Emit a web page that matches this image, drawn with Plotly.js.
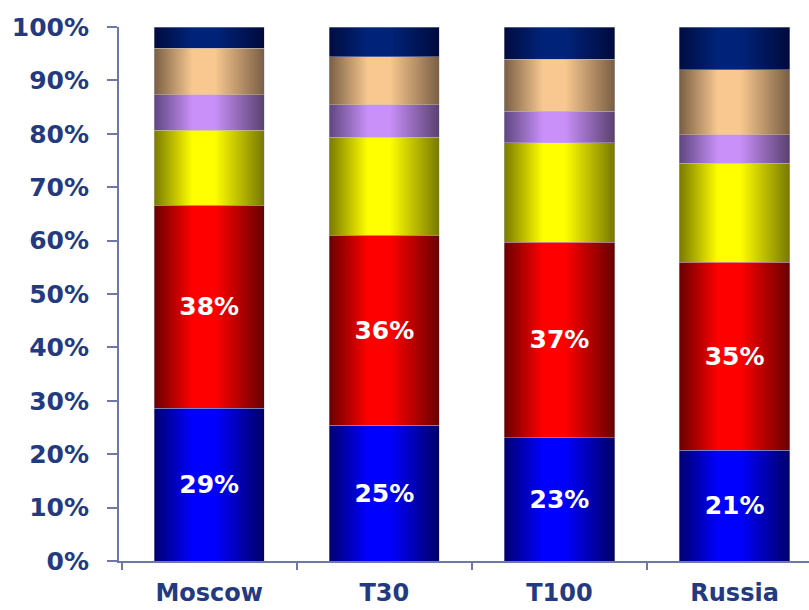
<!DOCTYPE html>
<html>
<head>
<meta charset="utf-8">
<script src="https://cdn.plot.ly/plotly-3.0.1.min.js"></script>
<style>html,body{margin:0;padding:0;background:#fff;overflow:hidden}#chart{width:809px;height:610px}</style>
</head>
<body>
<div id="chart"></div>
<script>
var categories = ["Moscow", "T30", "T100", "Russia"];
var seg1 = [28.6, 25.4, 23.1, 20.7];   // blue (labelled)
var seg2 = [38.0, 35.6, 36.6, 35.2];   // red (labelled)
var seg3 = [14.1, 18.4, 18.6, 18.6];   // yellow
var seg4 = [6.6, 6.0, 5.9, 5.3];       // lavender
var seg5 = [8.7, 9.0, 9.8, 12.2];      // peach
var seg6 = [4.0, 5.6, 6.0, 8.0];       // navy
var yTicks = [0, 10, 20, 30, 40, 50, 60, 70, 80, 90, 100];

var series = [
  {y: seg1, base: "#0000c8", grad: ["#000070", "#0000ff", "#0000ff", "#000068"], label: true},
  {y: seg2, base: "#d00000", grad: ["#6a0000", "#ff0000", "#ff0000", "#680000"], label: true},
  {y: seg3, base: "#d8d800", grad: ["#7a7a00", "#ffff00", "#ffff00", "#787800"], label: false},
  {y: seg4, base: "#a078d0", grad: ["#5e4680", "#c890f8", "#c890f8", "#5a4070"], label: false},
  {y: seg5, base: "#d8a880", grad: ["#7a5e44", "#f8c890", "#f8c890", "#7a5e44"], label: false},
  {y: seg6, base: "#001a60", grad: ["#000c40", "#00237a", "#00237a", "#000a3c"], label: false}
];

var fontFam = "DejaVu Sans, Verdana, sans-serif";

var traces = series.map(function (s, i) {
  return {
    type: "bar",
    x: categories,
    y: s.y,
    name: "s" + (i + 1),
    marker: {color: s.base, line: {color: "rgba(190,190,200,0.7)", width: 0.6}},
    text: s.label ? s.y.map(function (v) { return Math.round(v) + "%"; }) : null,
    textposition: s.label ? "inside" : "none",
    insidetextanchor: "middle",
    constraintext: "none",
    textfont: {family: fontFam, size: 25, color: "#ffffff", weight: "bold"},
    hoverinfo: "none"
  };
});

var axisColor = "#6e78a8";

var layout = {
  width: 809,
  height: 610,
  barmode: "stack",
  bargap: 0.37,
  showlegend: false,
  paper_bgcolor: "#ffffff",
  plot_bgcolor: "#ffffff",
  margin: {l: 119, r: 0, t: 27, b: 49},
  xaxis: {
    range: [-0.515, 3.425],
    showline: true, linecolor: axisColor, linewidth: 2,
    ticks: "outside", ticklen: 7, tickwidth: 2, tickcolor: axisColor,
    tickson: "boundaries",
    showgrid: false, zeroline: false,
    tickfont: {family: fontFam, size: 24, color: "#233a80", weight: "bold"},
    ticklabelstandoff: 9
  },
  yaxis: {
    range: [0, 100],
    tickvals: yTicks,
    ticktext: yTicks.map(function (v) { return v + "%"; }),
    showline: true, linecolor: axisColor, linewidth: 2,
    ticks: "outside", ticklen: 10, tickwidth: 2, tickcolor: axisColor,
    showgrid: false, zeroline: false,
    tickfont: {family: fontFam, size: 25, color: "#233a80", weight: "bold"},
    ticklabelstandoff: 13
  }
};

Plotly.newPlot("chart", traces, layout, {staticPlot: true}).then(function (gd) {
  var svg = gd.querySelector("svg.main-svg");
  var ns = "http://www.w3.org/2000/svg";
  var defs = svg.querySelector("defs") || svg.insertBefore(document.createElementNS(ns, "defs"), svg.firstChild);
  var offsets = ["0%", "35%", "55%", "100%"];
  series.forEach(function (s, i) {
    var g = document.createElementNS(ns, "linearGradient");
    g.setAttribute("id", "barGrad" + i);
    g.setAttribute("x1", "0"); g.setAttribute("y1", "0");
    g.setAttribute("x2", "1"); g.setAttribute("y2", "0");
    s.grad.forEach(function (c, k) {
      var st = document.createElementNS(ns, "stop");
      st.setAttribute("offset", offsets[k]);
      st.setAttribute("stop-color", c);
      g.appendChild(st);
    });
    defs.appendChild(g);
  });
  var traceGroups = gd.querySelectorAll(".barlayer .trace.bars");
  traceGroups.forEach(function (tg, i) {
    tg.querySelectorAll(".point path").forEach(function (p) {
      p.style.fill = "url(#barGrad" + i + ")";
    });
  });
});
</script>
</body>
</html>
